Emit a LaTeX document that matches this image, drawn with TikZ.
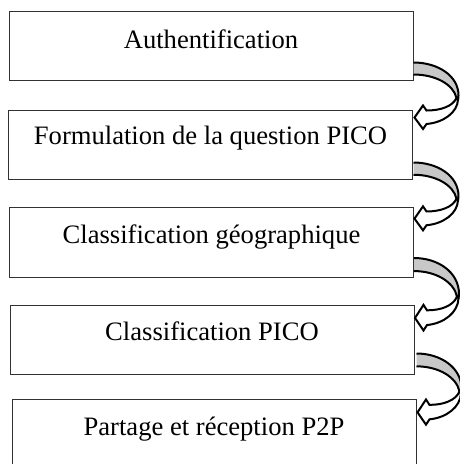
\documentclass[tikz,border=0pt]{standalone}
\usepackage{fontspec}
\setmainfont{Liberation Serif}
\usetikzlibrary{calc}
\definecolor{arrowgray}{RGB}{200,200,200}
\definecolor{boxline}{RGB}{50,50,50}
\newcommand\cvarrow[2]{%
  \begin{scope}[shift={#1}, yscale=#2]
    \filldraw[fill=arrowgray, draw=black, line width=2pt, line join=round]
      (0,0) .. controls (24,0) and (45,13) .. (45,33)
            .. controls (45,35) and (44.8,36) .. (44.5,37)
         -- (43,35.5) .. controls (40,22) and (22,12) .. (0,12);
    \filldraw[fill=white, draw=black, line width=2pt, line join=miter]
      (44.5,37) .. controls (44,50) and (30,60) .. (13,61.5)
         -- (9.5,66.5) -- (1,55) -- (9.5,43) -- (13,48)
         .. controls (27,48) and (39,44) .. (43,35.5) -- cycle;
  \end{scope}}
\begin{document}
\begin{tikzpicture}[x=1pt,y=-1pt,
  stepbox/.style={draw=boxline, line width=1pt, fill=white, inner sep=0pt,
                  minimum width=404pt, minimum height=69pt},
  lbl/.style={anchor=base, inner sep=0pt, font=\fontsize{26.6}{30}\selectfont}]
  \clip (0,0) rectangle (460,464);
  \node[stepbox] (b1) at (211,45.5) {};
  \node[stepbox] (b2) at (210.5,144.5) {};
  \node[stepbox, minimum height=70pt] (b3) at (211.5,242) {};
  \node[stepbox] (b4) at (212,339.5) {};
  \node[stepbox] (b5) at (214,433.5) {};
  \node[lbl] (t1) at (211,48.5) {Authentification};
  \node[lbl] (t2) at (210.5,144.5) {Formulation de la question PICO};
  \node[lbl] (t3) at (211.5,243.5) {Classification géographique};
  \node[lbl] (t4) at (212,340) {Classification PICO};
  \node[lbl] (t5) at (214,435.5) {Partage et réception P2P};
  \cvarrow{($(b1.south east)+(0,-18)$)}{1.0}
  \cvarrow{($(b2.south east)+(0.5,-17)$)}{1.02}
  \cvarrow{($(b3.south east)+(0,-19.5)$)}{1.09}
  \cvarrow{($(b4.south east)+(2,-21)$)}{1.07}
\end{tikzpicture}
\end{document}
